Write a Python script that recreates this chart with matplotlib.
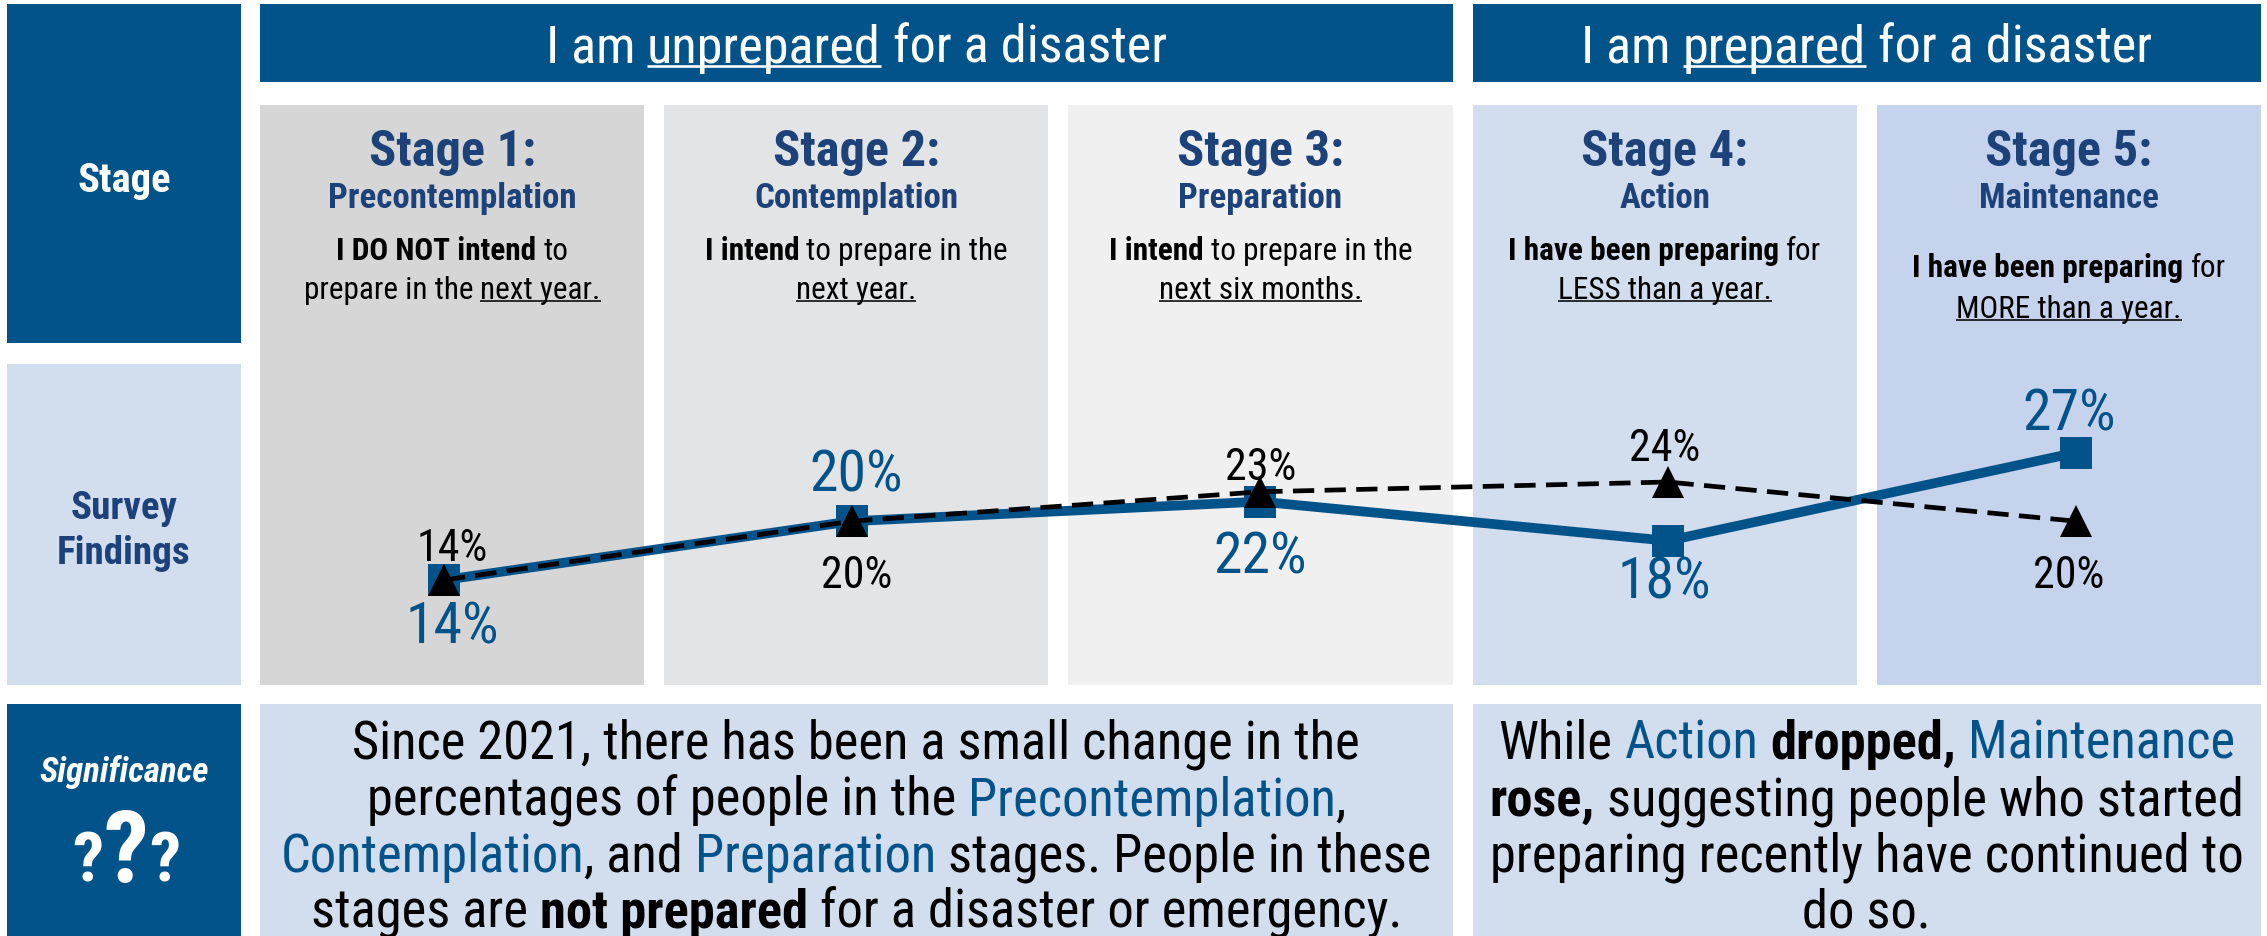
import matplotlib
matplotlib.use("Agg")
import matplotlib.pyplot as plt
from matplotlib import font_manager
from matplotlib.font_manager import FontProperties
from matplotlib.patches import Rectangle

# ---------------- data ----------------
stage_titles = ["Stage 1:", "Stage 2:", "Stage 3:", "Stage 4:", "Stage 5:"]
stage_names = ["Precontemplation", "Contemplation", "Preparation", "Action", "Maintenance"]
pct_current = [14, 20, 22, 18, 27]    # solid blue line, square markers
pct_previous = [14, 20, 23, 24, 20]   # dashed black line, triangle markers

# markup: *bold*  _underline_  ~blue~
headers = ["I am _unprepared_ for a disaster", "I am _prepared_ for a disaster"]
stage_desc = [
    ["*I DO NOT intend* to", "prepare in the _next year._"],
    ["*I intend* to prepare in the", "_next year._"],
    ["*I intend* to prepare in the", "_next six months._"],
    ["*I have been preparing* for", "_LESS than a year._"],
    ["*I have been preparing* for", "_MORE than a year._"],
]
note_unprepared = [
    "Since 2021, there has been a small change in the",
    "percentages of people in the ~Precontemplation~,",
    "~Contemplation~, and ~Preparation~ stages. People in these",
    "stages are *not prepared* for a disaster or emergency.",
]
note_prepared = [
    "While ~Action~ *dropped,* ~Maintenance~",
    "*rose,* suggesting people who started",
    "preparing recently have continued to",
    "do so.",
]
row_labels = ["Stage", "Survey", "Findings", "Significance"]

# ---------------- style ----------------
DARK = "#02538A"
NAVY = "#1C4279"
LIGHT = "#D2DDEE"
PANEL_COLORS = ["#D6D6D6", "#E3E4E6", "#F0F0F0", "#D2DDEE", "#C5D3EC"]

W, H = 2267, 937
DPI = 100

# font choice: prefer a narrow/condensed sans
entries = font_manager.fontManager.ttflist
names = {f.name for f in entries}
FONT, STRETCH = "Liberation Sans", "normal"
if "Liberation Sans Narrow" in names:
    FONT = "Liberation Sans Narrow"
else:
    done = False
    for cand in ["Roboto Condensed", "Open Sans Condensed", "Noto Sans Condensed"]:
        if cand in names:
            FONT, done = cand, True
            break
    if not done:
        for fam in ["Noto Sans", "Open Sans", "Roboto", "DejaVu Sans"]:
            if any(f.name == fam and str(f.stretch) in ("condensed", "semi-condensed") for f in entries):
                FONT, STRETCH = fam, "condensed"
                break

fig = plt.figure(figsize=(W / DPI, H / DPI), dpi=DPI)
ax = fig.add_axes([0, 0, 1, 1])
ax.set_xlim(0, W)
ax.set_ylim(H, 0)
ax.axis("off")
renderer = fig.canvas.get_renderer()


def mkprop(size, bold=False, italic=False):
    return FontProperties(family=FONT, stretch=STRETCH, size=size,
                          weight="bold" if bold else "normal",
                          style="italic" if italic else "normal")


def adv(s, prop):
    if not s:
        return 0.0
    w1 = renderer.get_text_width_height_descent("X" + s + "X", prop, ismath=False)[0]
    w0 = renderer.get_text_width_height_descent("XX", prop, ismath=False)[0]
    return w1 - w0


def parse(s):
    segs, cur = [], ""
    st = {"b": False, "u": False, "c": False}
    for ch in s:
        if ch in "*_~":
            if cur:
                segs.append((cur, dict(st)))
                cur = ""
            key = {"*": "b", "_": "u", "~": "c"}[ch]
            st[key] = not st[key]
        else:
            cur += ch
    if cur:
        segs.append((cur, dict(st)))
    return segs


def line_width(s, size, bold=False, italic=False):
    return sum(adv(t, mkprop(size, bold or st["b"], italic)) for t, st in parse(s))


def fit(s, target, bold=False, italic=False):
    return 20.0 * target / line_width(s, 20.0, bold, italic)


def draw_line(xc, yc, s, size, color="black", bold=False, italic=False, zorder=3):
    px = size * DPI / 72.0
    base = yc + 0.36 * px
    x = xc - line_width(s, size, bold, italic) / 2.0
    for t, st in parse(s):
        prop = mkprop(size, bold or st["b"], italic)
        c = DARK if st["c"] else color
        core = t.strip()
        lead = t[: len(t) - len(t.lstrip())]
        xd = x + adv(lead, prop)
        if core:
            ax.text(xd, base, core, fontproperties=prop, color=c,
                    ha="left", va="baseline", zorder=zorder)
            if st["u"]:
                wc = adv(core, prop)
                ax.plot([xd, xd + wc], [base + 0.085 * px] * 2, color=c,
                        lw=max(1.0, 0.05 * px) * 72.0 / DPI, solid_capstyle="butt",
                        zorder=zorder)
        x += adv(t, prop)


def rect(x0, y0, x1, y1, color):
    ax.add_patch(Rectangle((x0, y0), x1 - x0, y1 - y0, facecolor=color,
                           edgecolor="none", zorder=1))


# ---------------- layout boxes ----------------
LX0, LX1 = 7, 241
PX0, PX1, GAP = 260, 2261, 20
pw = (PX1 - PX0 - 4 * GAP) / 5.0
panels = [(PX0 + i * (pw + GAP), PX0 + i * (pw + GAP) + pw) for i in range(5)]
TOP0, TOP1 = 5, 83
PAN0, PAN1 = 106, 686
BOT0, BOT1 = 705, 937

rect(LX0, 5, LX1, 344, DARK)
rect(LX0, 365, LX1, 686, LIGHT)
rect(LX0, 705, LX1, 937, DARK)
rect(panels[0][0], TOP0, panels[2][1], TOP1, DARK)
rect(panels[3][0], TOP0, panels[4][1], TOP1, DARK)
for (a, b), c in zip(panels, PANEL_COLORS):
    rect(a, PAN0, b, PAN1, c)
rect(panels[0][0], BOT0, panels[2][1], BOT1, LIGHT)
rect(panels[3][0], BOT0, panels[4][1], BOT1, LIGHT)

# ---------------- left labels ----------------
lxc = (LX0 + LX1) / 2.0
s_stage = fit(row_labels[0], 93, bold=True)
draw_line(lxc, 177, row_labels[0], s_stage, color="white", bold=True)
s_find = fit(row_labels[2], 133, bold=True)
draw_line(lxc, 505, row_labels[1], s_find, color=NAVY, bold=True)
draw_line(lxc, 550, row_labels[2], s_find, color=NAVY, bold=True)
s_sig = fit(row_labels[3], 169, bold=True, italic=True)
draw_line(lxc, 769, row_labels[3], s_sig, color="white", bold=True, italic=True)
for xq, sz in [(88, 50), (126, 72), (165, 50)]:
    ax.text(xq, 882, "?", fontproperties=mkprop(sz, bold=True), color="white",
            ha="center", va="baseline", zorder=3)

# ---------------- headers ----------------
s_head = fit(headers[0], 622)
draw_line((panels[0][0] + panels[2][1]) / 2.0, 44, headers[0], s_head, color="white")
draw_line((panels[3][0] + panels[4][1]) / 2.0, 44, headers[1], s_head, color="white")

# ---------------- stage panels ----------------
s_title = fit(stage_titles[0], 130, bold=True) * 1.28
s_name = fit(stage_names[0], 241, bold=True) * 1.03
s_desc = fit(stage_desc[0][1], 285) * 1.04
for i in range(5):
    xc = (panels[i][0] + panels[i][1]) / 2.0
    draw_line(xc, 148, stage_titles[i], s_title, color=NAVY, bold=True)
    draw_line(xc, 195, stage_names[i], s_name, color=NAVY, bold=True)
    y1, y2 = (266, 307) if i == 4 else (249, 288)
    draw_line(xc, y1, stage_desc[i][0], s_desc)
    draw_line(xc, y2, stage_desc[i][1], s_desc)

# ---------------- bottom notes ----------------
s_note = fit(note_unprepared[0], 1008)
for k, yc in enumerate([740, 797, 853, 909]):
    draw_line((panels[0][0] + panels[2][1]) / 2.0, yc, note_unprepared[k], s_note)
    draw_line((panels[3][0] + panels[4][1]) / 2.0, yc, note_prepared[k], s_note)

# ---------------- line chart ----------------
MX0, MDX = 444.0, 408.0          # marker x pixel positions
PX_PER_PCT, Y14 = 9.8, 581.0     # vertical scale
xa = -(MX0 - PX0) / MDX
xb = xa + (PX1 - PX0) / MDX
ylo = 14 - (PAN1 - Y14) / PX_PER_PCT
yhi = ylo + (PAN1 - PAN0) / PX_PER_PCT
cax = fig.add_axes([PX0 / W, (H - PAN1) / H, (PX1 - PX0) / W, (PAN1 - PAN0) / H])
cax.set_xlim(xa, xb)
cax.set_ylim(ylo, yhi)
cax.axis("off")
cax.patch.set_alpha(0)

xs = list(range(len(stage_names)))
cax.plot(xs, pct_current, color=DARK, lw=7.0, marker="s", markersize=23,
         markerfacecolor=DARK, markeredgewidth=0, zorder=3, solid_joinstyle="miter")
cax.plot(xs, pct_previous, color="black", lw=3.4, dashes=(4.5, 2.2), marker="^",
         markersize=23, markerfacecolor="black", markeredgewidth=0, zorder=4)

s_blue = fit("27%", 87) * 1.08
s_black = fit("24%", 68) * 1.05
blue_dy = [-42, 52, -50, -36, 44]
black_dy = [36, -50, 29, 38, -50]
for i in xs:
    dx = (panels[i][0] + panels[i][1]) / 2.0 - (MX0 + MDX * i)
    pxb = s_blue * DPI / 72.0
    cax.annotate(f"{pct_current[i]}%", (i, pct_current[i]), xytext=(dx, blue_dy[i] - 0.36 * pxb),
                 textcoords="offset pixels", ha="center", va="baseline",
                 fontproperties=mkprop(s_blue), color=DARK, zorder=5)
    pxk = s_black * DPI / 72.0
    cax.annotate(f"{pct_previous[i]}%", (i, pct_previous[i]), xytext=(dx, black_dy[i] - 0.36 * pxk),
                 textcoords="offset pixels", ha="center", va="baseline",
                 fontproperties=mkprop(s_black), color="black", zorder=5)

fig.savefig("out.png", dpi=DPI)
